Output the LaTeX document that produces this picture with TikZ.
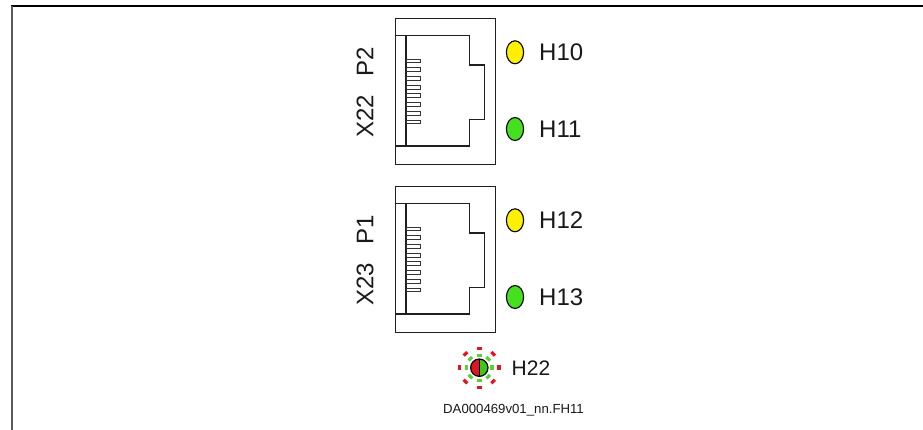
\documentclass[tikz,border=0pt]{standalone}
\usepackage{fontspec}
\usetikzlibrary{calc}
\setmainfont{Liberation Sans}
\definecolor{ledyellow}{RGB}{255,240,0}
\definecolor{ledgreen}{RGB}{70,225,30}
\definecolor{hgreen}{RGB}{60,200,20}
\definecolor{hred}{RGB}{225,20,35}
\definecolor{txt}{RGB}{25,25,25}
\tikzset{
  x=1pt,y=-1pt,
  outline/.style={draw=black!88,line width=1.25pt,line join=miter},
  pin/.style={draw=black!80,line width=0.9pt,fill=white},
  led/.style={draw=black,line width=1.1pt},
  biglabel/.style={font=\fontsize{24}{26}\selectfont,text=txt,inner sep=0pt,anchor=west},
  sidelabel/.style={font=\fontsize{24}{26}\selectfont,text=txt,inner sep=0pt,rotate=90},
}
\begin{document}
\begin{tikzpicture}
\useasboundingbox (0,0) rectangle (923,430);
% frame
\draw[line width=2.3pt,black] (11,6.2) -- (923,6.2);
\draw[line width=2pt,black!65] (12,6) -- (12,430);
% connectors
\foreach \o/\lp/\lx in {0/P2/X22,168/P1/X23}{
  \begin{scope}[yshift=-\o pt]
    \draw[outline] (395.3,18.6) rectangle (495.7,164.3);
    \draw[outline] (395.3,35.3) -- (469.3,35.3) -- (469.3,65) -- (484.7,65) -- (484.7,119.3) -- (469.3,119.3) -- (469.3,146) -- (395.3,146);
    \draw[outline] (406,35.3) -- (406,146);
    \foreach \y in {61,69.7,78.4,87.1,95.8,104.5,113.2,122}{
      \draw[pin] (406,\y-1.9) rectangle (420,\y+1.9);
    }
    \node[sidelabel] at (365,61.5) {\lp};
    \node[sidelabel] at (365,116.5) {\lx};
  \end{scope}
}
% LEDs
\foreach \n/\y/\c/\t in {a/52.3/ledyellow/H10,b/129/ledgreen/H11,c/220.3/ledyellow/H12,d/297/ledgreen/H13}{
  \draw[led,fill=\c] (515,\y) ellipse (8.6 and 11.5);
  \node[biglabel] (t\n) at (539,\y) {\t};
}
% H22
\coordinate (hc) at (479.3,367.7);
\foreach \a in {0,45,...,315}{
  \draw[hgreen!85!white,line width=5pt] ($(hc)+(\a:11)$) -- ($(hc)+(\a:14.2)$);
  \draw[hred,line width=5pt] ($(hc)+(\a:18)$) -- ($(hc)+(\a:21.2)$);
}
\fill[hred] (479.3,359) arc[start angle=-90,end angle=-270,radius=8.7] -- cycle;
\fill[hgreen] (479.3,359) arc[start angle=-90,end angle=90,radius=8.7] -- cycle;
\draw[led,line width=1.2pt] (hc) circle (8.7);
\draw[black,line width=1pt] (479.3,359) -- (479.3,376.4);
\node[biglabel,font=\fontsize{21}{23}\selectfont] (h22) at (511.5,368.5) {H22};
\node[font=\fontsize{13.2}{15}\selectfont,text=txt,inner sep=0pt] (cap) at (513.5,410.5) {DA000469v01\_nn.FH11};
\end{tikzpicture}
\end{document}
